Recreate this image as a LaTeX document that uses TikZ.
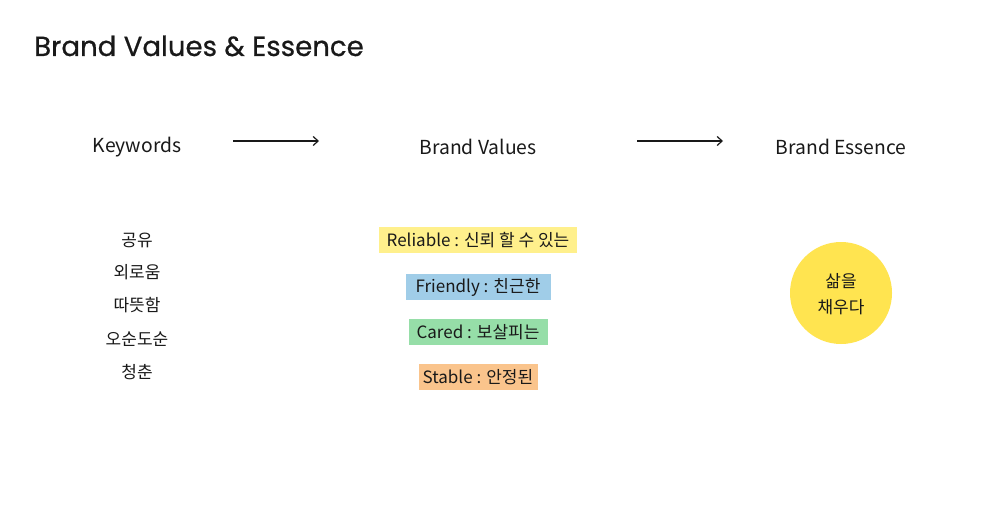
\documentclass[tikz,border=0pt]{standalone}
\usepackage{fontspec}
\setmainfont{Noto Sans CJK KR}
\newfontfamily\titlefont[FakeBold=0.6]{Poppins}
\usetikzlibrary{arrows.meta}
\definecolor{cyellow}{RGB}{255,240,140}
\definecolor{cblue}{RGB}{160,205,232}
\definecolor{cgreen}{RGB}{150,222,168}
\definecolor{corange}{RGB}{250,196,140}
\definecolor{ccircle}{RGB}{255,228,80}
\definecolor{ink}{RGB}{25,25,25}
\tikzset{
  head/.style={font=\fontsize{19.3}{22}\selectfont, text=ink, anchor=center},
  kw/.style={font=\fontsize{17}{20}\selectfont, text=ink, anchor=center},
  valbox/.style={font=\fontsize{17}{20}\selectfont, text=ink, anchor=center, inner xsep=0pt, inner ysep=0pt, minimum height=26pt},
  flow/.style={draw=ink, line width=1.2pt, -{Straight Barb[length=5pt,width=9pt]}},
}
\begin{document}
\begin{tikzpicture}[x=1pt,y=-1pt]
\useasboundingbox[fill=white] (0,0) rectangle (1000,505);
\node[anchor=base west, font=\titlefont\fontsize{27.6}{30}\selectfont, text=ink, inner sep=0pt] (title) at (34,56) {Brand Values \& Essence};

\node[head] (kwh) at (137,147) {Keywords};
\node[head] (bvh) at (478,147) {Brand Values};
\node[head] (beh) at (841,147) {Brand Essence};

\coordinate (a1s) at (233,141);
\coordinate (a1e) at (319,141);
\coordinate (a2s) at (637,141);
\coordinate (a2e) at (723,141);
\draw[flow] (a1s) -- (a1e);
\draw[flow] (a2s) -- (a2e);

\node[kw] (k1) at (137,240) {공유};
\node[kw] (k2) at (137,272) {외로움};
\node[kw] (k3) at (137,305) {따뜻함};
\node[kw] (k4) at (137,339) {오순도순};
\node[kw] (k5) at (137,372) {청춘};

\node[valbox, fill=cyellow, minimum width=198pt] (v1) at (478,240) {Reliable : 신뢰 할 수 있는};
\node[valbox, fill=cblue, minimum width=145pt] (v2) at (478,287) {Friendly : 친근한};
\node[valbox, fill=cgreen, minimum width=139pt] (v3) at (478,332) {Cared : 보살피는};
\node[valbox, fill=corange, minimum width=119pt] (v4) at (478,377) {Stable : 안정된};

\node[circle, fill=ccircle, minimum size=102pt, inner sep=0pt] (ess) at (841,293) {};
\node[kw] (e1) at (841,281) {삶을};
\node[kw] (e2) at (841,307) {채우다};
\end{tikzpicture}
\end{document}
